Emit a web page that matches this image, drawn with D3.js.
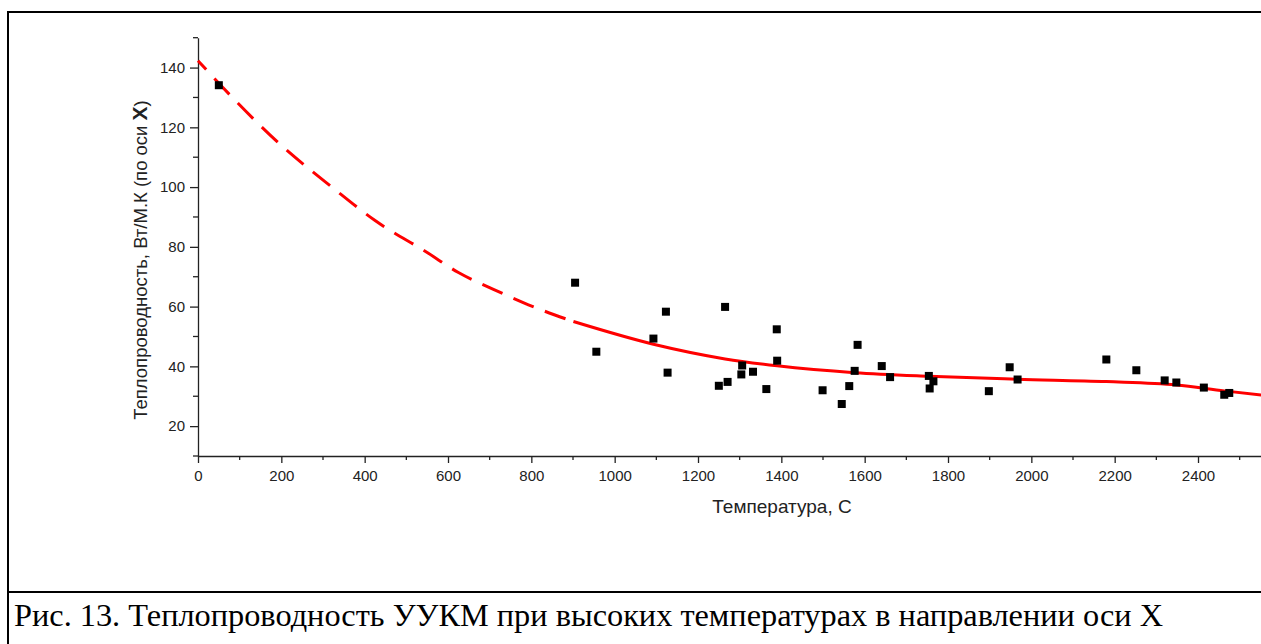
<!DOCTYPE html>
<html>
<head>
<meta charset="utf-8">
<script src="https://cdn.jsdelivr.net/npm/d3@7"></script>
<style>
body { margin: 0; background: #fff; overflow: hidden; }
svg { display: block; overflow: hidden; }
</style>
</head>
<body>
<svg width="1261" height="644"></svg>
<script>
/**Data**/
//measured points: temperature (C) and conductivity (W/m.K)
var tempX = [50, 905, 956, 1093, 1123, 1127, 1265, 1250, 1271, 1306, 1304, 1332, 1364, 1389, 1390,
	1499, 1545, 1563, 1576, 1583, 1641, 1661, 1754, 1756, 1765, 1898, 1948, 1967, 2180, 2252,
	2320, 2348, 2414, 2463, 2475];
var condY = [134.1, 68.0, 44.9, 49.3, 58.3, 37.9, 59.9, 33.5, 34.8, 40.3, 37.3, 38.2, 32.4, 52.4, 41.9,
	32.0, 27.4, 33.4, 38.5, 47.2, 40.1, 36.4, 36.8, 32.6, 35.0, 31.7, 39.7, 35.6, 42.3, 38.7,
	35.3, 34.6, 32.9, 30.5, 31.1];
//fitted curve
var fitX = [0, 77, 190, 325, 425, 550, 625, 709, 793, 901, 1093, 1265, 1390, 1576, 1754, 1967, 2180, 2348, 2463, 2552];
var fitY = [142.3, 130.8, 115.2, 99.6, 88.8, 78.1, 71.4, 65.8, 60.6, 55.0, 47.4, 42.5, 40.2, 37.9, 36.7, 35.7, 34.9, 33.8, 31.8, 30.4];
var dashEnd = 901; //curve is dashed (extrapolated) below this temperature
var xTicks = [0, 200, 400, 600, 800, 1000, 1200, 1400, 1600, 1800, 2000, 2200, 2400];
var yTicks = [20, 40, 60, 80, 100, 120, 140];
var caption = "Рис. 13. Теплопроводность УУКМ при высоких температурах в направлении оси X";

/**Initialization**/
var svg = d3.select("svg");
var x = d3.scaleLinear().domain([0, 2800]).range([198, 198 + 2800 * 0.41667]);
var y = d3.scaleLinear().domain([10, 150]).range([456, 37.7]);
var sans = "'Liberation Sans', Arial, sans-serif";

//frame round the figure and caption
svg.append("path")
	.attr("d", "M8,644 V12 H1270 M8,592 H1270")
	.attr("fill", "none")
	.attr("stroke", "#000")
	.attr("stroke-width", 2);

//minor ticks
var minorX = d3.range(0, 2801, 100).filter(function(d) { return d % 200 != 0; });
var minorY = d3.range(10, 151, 10).filter(function(d) { return d % 20 != 0; });

var xAxis = svg.append("g")
	.attr("transform", "translate(0," + y(10) + ")")
	.call(d3.axisBottom(x).tickValues(xTicks).tickFormat(d3.format("d"))
		.tickSize(7).tickPadding(7).tickSizeOuter(0));
xAxis.append("g").selectAll("line")
	.data(minorX)
	.enter().append("line")
	.attr("x1", function(d) { return x(d); })
	.attr("x2", function(d) { return x(d); })
	.attr("y1", 0).attr("y2", 4);

var yAxis = svg.append("g")
	.attr("transform", "translate(" + x(0) + ",0)")
	.call(d3.axisLeft(y).tickValues(yTicks).tickFormat(d3.format("d"))
		.tickSize(8).tickPadding(5).tickSizeOuter(0));
yAxis.append("g").selectAll("line")
	.data(minorY)
	.enter().append("line")
	.attr("y1", function(d) { return y(d); })
	.attr("y2", function(d) { return y(d); })
	.attr("x1", 0).attr("x2", -5);

svg.selectAll("g").attr("font-family", sans).attr("font-size", 15);
svg.selectAll("g path.domain, g line").attr("stroke", "#222").attr("stroke-width", 1.3);
svg.selectAll(".tick text").attr("fill", "#222");

//axis titles
svg.append("text")
	.attr("x", 782)
	.attr("y", 513)
	.attr("text-anchor", "middle")
	.attr("fill", "#222")
	.attr("font-family", sans)
	.attr("font-size", 19)
	.text("Температура, С");

var yTitle = svg.append("text")
	.attr("transform", "translate(147,260) rotate(-90)")
	.attr("text-anchor", "middle")
	.attr("fill", "#222")
	.attr("font-family", sans)
	.attr("font-size", 18.5);
yTitle.append("tspan").text("Теплопроводность, Вт/М.К (по оси ");
yTitle.append("tspan").attr("font-weight", "bold").attr("font-size", 21).text("X");
yTitle.append("tspan").text(")");

//fitted curve
var fit = fitX.map(function(d, i) { return [d, fitY[i]]; });
var line = d3.line()
	.x(function(d) { return x(d[0]); })
	.y(function(d) { return y(d[1]); })
	.curve(d3.curveMonotoneX);

svg.append("path")
	.datum(fit.filter(function(d) { return d[0] <= dashEnd; }))
	.attr("d", line)
	.attr("fill", "none")
	.attr("stroke", "#ff0000")
	.attr("stroke-width", 3)
	.attr("stroke-dasharray", "22,12")
	.attr("stroke-dashoffset", 10);

svg.append("path")
	.datum(fit.filter(function(d) { return d[0] >= dashEnd; }))
	.attr("d", line)
	.attr("fill", "none")
	.attr("stroke", "#ff0000")
	.attr("stroke-width", 3);

//measured points
svg.append("g")
	.selectAll("rect")
	.data(tempX)
	.enter().append("rect")
	.attr("x", function(d) { return x(d) - 4; })
	.attr("y", function(d, i) { return y(condY[i]) - 4; })
	.attr("width", 8)
	.attr("height", 8)
	.attr("fill", "#000");

//caption
svg.append("text")
	.attr("x", 14)
	.attr("y", 626)
	.attr("textLength", 1149)
	.attr("lengthAdjust", "spacingAndGlyphs")
	.attr("fill", "#000")
	.attr("font-family", "'Liberation Serif', 'Times New Roman', serif")
	.attr("font-size", 31)
	.text(caption);
</script>
</body>
</html>
